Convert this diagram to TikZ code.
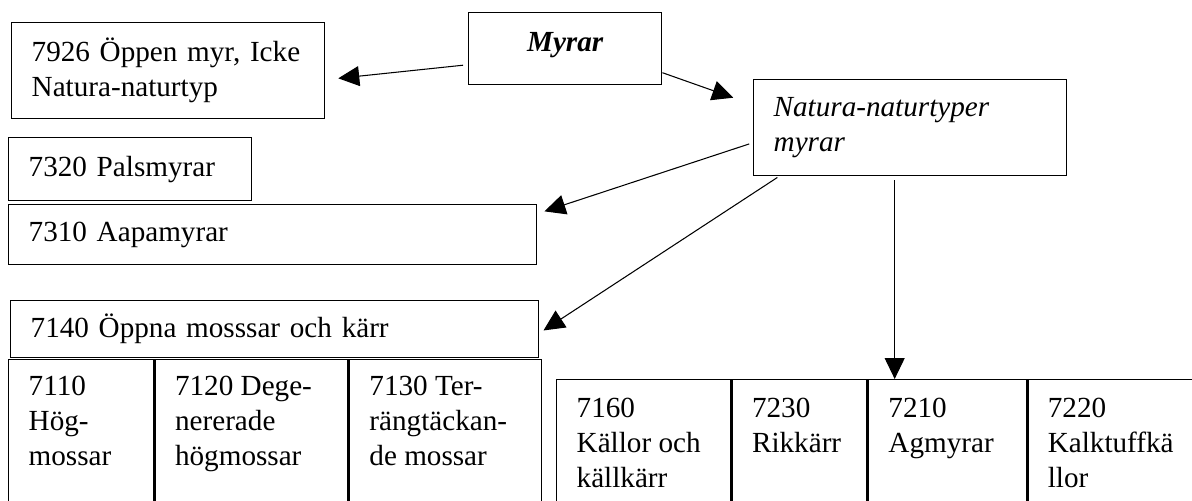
\documentclass[tikz,border=0pt]{standalone}
\usepackage{fontspec}
\setmainfont{Liberation Serif}
\usetikzlibrary{arrows.meta}
\newcommand{\boxfont}{\fontsize{16.6pt}{20pt}\selectfont}
\newcommand{\cellbox}[2]{\parbox[t][2.6cm][t]{#1}{\raggedright #2}}

\begin{document}
\begin{tikzpicture}[x=0.02cm, y=-0.02cm, font=\boxfont,
    box/.style={draw, line width=0.8pt, anchor=north west, align=left, inner xsep=0.4cm, inner ysep=0pt},
    cell/.style={draw, line width=0.8pt, anchor=north west, inner xsep=0.4cm, inner ysep=0.32cm},
    arr/.style={-{Triangle[length=0.42cm, width=0.4cm]}, line width=0.6pt}]
  \useasboundingbox (0,0) rectangle (1192,500);

  \node[box, align=center, minimum width=3.86cm, minimum height=1.44cm, text depth=0.25cm, inner xsep=0pt, font=\boxfont\bfseries\itshape] (myrar) at (468,12) {Myrar};
  \node[box, minimum width=6.26cm, minimum height=1.92cm, text width=5.46cm] (b7926) at (11,22) {7926 Öppen myr, Icke\\Natura-naturtyp};
  \node[box, minimum width=6.26cm, minimum height=1.92cm, text width=5.46cm, font=\boxfont\itshape] (natura) at (753,79) {Natura-naturtyper\\myrar};

  \node[box, minimum width=4.86cm, minimum height=1.26cm, text width=4.06cm] (b7320) at (8,137) {7320 Palsmyrar};
  \node[box, minimum width=10.56cm, minimum height=1.2cm, text width=9.76cm] (b7310) at (8,204) {7310 Aapamyrar};
  \node[box, minimum width=10.56cm, minimum height=1.14cm, text width=9.76cm] (b7140) at (10,300) {7140 Öppna mosssar och kärr};

  \node[cell] (c7110) at (8,359) {\cellbox{2.1cm}{7110\\Hög-\\mossar}};
  \node[cell] (c7120) at (c7110.north east) {\cellbox{3.06cm}{7120 Dege-\\nererade\\högmossar}};
  \node[cell] (c7130) at (c7120.north east) {\cellbox{3.04cm}{7130 Ter-\\rängtäckan-\\de mossar}};

  \node[cell, inner ysep=0.36cm] (c7160) at (556,379) {\cellbox{2.68cm}{7160\\Källor och\\källkärr}};
  \node[cell, inner ysep=0.36cm] (c7230) at (c7160.north east) {\cellbox{1.9cm}{7230\\Rikkärr}};
  \node[cell, inner ysep=0.36cm] (c7210) at (c7230.north east) {\cellbox{2.36cm}{7210\\Agmyrar}};
  \node[cell, inner ysep=0.36cm] (c7220) at (c7210.north east) {\cellbox{2.64cm}{7220\\Kalktuffkä\\llor}};

  \draw[arr, shorten <=0.1cm, shorten >=0.26cm] ([yshift=-0.32cm]myrar.west) -- ([yshift=-0.18cm]b7926.east);
  \draw[arr, shorten >=0.42cm] ([yshift=-0.48cm]myrar.east) -- ([yshift=0.46cm]natura.west);
  \draw[arr, shorten <=0.08cm, shorten >=0.15cm] ([yshift=-0.3cm]natura.west) -- ([yshift=0.42cm]b7310.east);
  \draw[arr, shorten <=0.04cm, shorten >=0.1cm] ([xshift=0.52cm]natura.south west) -- ([yshift=-0.08cm]b7140.east);
  \draw[arr, shorten <=0.08cm] ([xshift=-0.31cm]natura.south) -- ([xshift=-0.31cm]natura.south |- c7210.north);
\end{tikzpicture}
\end{document}
